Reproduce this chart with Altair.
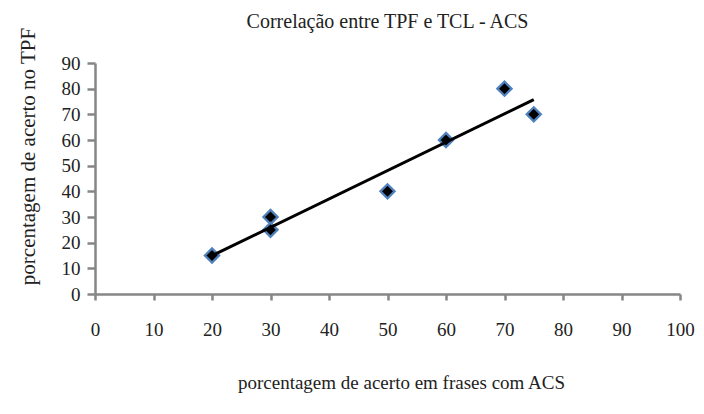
import altair as alt
import pandas as pd

# data
acs = [20, 30, 30, 50, 60, 70, 75]      # porcentagem de acerto em frases com ACS
tpf = [15, 30, 25, 40, 60, 80, 70]      # porcentagem de acerto no TPF

df = pd.DataFrame({"acs": acs, "tpf": tpf})

FONT = "Liberation Serif"
AXIS_COLOR = "#868686"
TEXT_COLOR = "#222222"

x_enc = alt.X(
    "acs:Q",
    scale=alt.Scale(domain=[0, 100], nice=False, zero=True),
    axis=alt.Axis(
        values=list(range(0, 101, 10)),
        grid=False,
        domainColor=AXIS_COLOR, domainWidth=2.5,
        tickColor=AXIS_COLOR, tickWidth=2.5, tickSize=6,
        labelFont=FONT, labelFontSize=19, labelColor=TEXT_COLOR,
        labelPadding=20, labelFlush=False, labelOverlap=False,
        title="porcentagem de acerto em frases com ACS",
        titleFont=FONT, titleFontSize=19, titleFontWeight="normal",
        titleColor=TEXT_COLOR, titleX=306, titleY=88,
        titleBaseline="middle", titleAlign="center",
    ),
)
y_enc = alt.Y(
    "tpf:Q",
    scale=alt.Scale(domain=[0, 90], nice=False, zero=True),
    axis=alt.Axis(
        values=list(range(0, 91, 10)),
        grid=False,
        domainColor=AXIS_COLOR, domainWidth=2.5,
        tickColor=AXIS_COLOR, tickWidth=2.5, tickSize=8,
        labelFont=FONT, labelFontSize=19, labelColor=TEXT_COLOR,
        labelPadding=7, labelFlush=False, labelOverlap=False,
        title="porcentagem de acerto no TPF",
        titleFont=FONT, titleFontSize=21, titleFontWeight="normal",
        titleColor=TEXT_COLOR, titleX=-67, titleY=93, titleAngle=-90,
        titleBaseline="middle", titleAlign="center",
    ),
)

base = alt.Chart(df).encode(x=x_enc, y=y_enc)

points = base.mark_point(
    shape="diamond", filled=False, fill="black", fillOpacity=1,
    stroke="#4F81BD", strokeWidth=2.3, size=200, opacity=1,
)

trend = base.transform_regression(
    "acs", "tpf", method="linear"
).mark_line(color="black", strokeWidth=3)

chart = alt.layer(points, trend).properties(
    width=585,
    height=231,
    padding={"left": 87, "top": 55, "right": 16, "bottom": 112},
    autosize="none",
    title=alt.TitleParams(
        "Correlação entre TPF e TCL - ACS",
        font=FONT, fontSize=20, fontWeight="normal", color=TEXT_COLOR,
        anchor="middle", frame="group", offset=0, dy=5,
    ),
).configure_view(stroke=None)

chart.save("out.html", embed_options={"renderer": "svg", "actions": False})
